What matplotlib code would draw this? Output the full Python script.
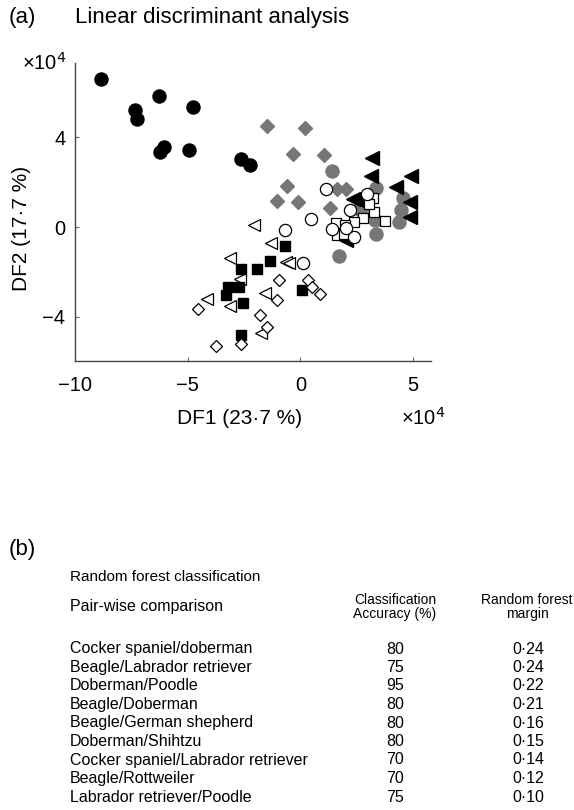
import matplotlib
matplotlib.use("Agg")
import matplotlib.pyplot as plt

plt.rcParams['font.family'] = ['Liberation Sans', 'DejaVu Sans']

W, H = 574, 810
GRAY = '#767676'

# ---- LDA scatter data (DF1, DF2 in units of 1e4) ----
black_circle_x = [-8.86, -6.28, -7.33, -7.23, -4.77, -6.03, -6.24, -4.92, -2.64, -2.23]
black_circle_y = [6.58, 5.82, 5.23, 4.83, 5.35, 3.57, 3.35, 3.45, 3.01, 2.76]

gray_diamond_x = [-1.50, 0.23, -0.31, 1.04, -0.58, -1.02, -0.11, 1.31, 1.61, 2.01]
gray_diamond_y = [4.49, 4.40, 3.27, 3.22, 1.81, 1.16, 1.11, 0.84, 1.68, 1.68]

black_tri_x = [3.19, 3.12, 4.91, 4.25, 2.35, 2.60, 4.85, 4.85, 2.04]
black_tri_y = [3.09, 2.29, 2.27, 1.80, 1.27, 1.16, 1.11, 0.44, -0.58]

gray_circle_x = [1.42, 3.36, 4.56, 2.61, 4.47, 3.30, 4.38, 3.36, 1.70, 3.00]
gray_circle_y = [2.51, 1.76, 1.29, 0.82, 0.76, 0.31, 0.22, -0.29, -1.29, 0.62]

open_circle_x = [1.15, 2.94, 2.21, 0.46, 1.39, 2.37, -0.69, 0.13, 2.04]
open_circle_y = [1.69, 1.49, 0.76, 0.36, -0.09, -0.44, -0.13, -1.59, -0.04]

open_square_x = [3.21, 3.27, 2.77, 2.37, 3.74, 1.57, 1.97, 1.64, 1.95, 3.05]
open_square_y = [1.31, 0.67, 0.40, 0.24, 0.29, 0.16, 0.09, -0.36, -0.29, 1.04]

open_tri_x = [-2.04, -1.31, -3.10, -0.62, -2.68, -4.16, -3.14, -1.55, -1.73, -0.49]
open_tri_y = [0.07, -0.72, -1.38, -1.54, -2.31, -3.18, -3.53, -2.93, -4.71, -1.60]

black_square_x = [-0.68, -1.35, -1.93, -2.64, -3.19, -2.74, -3.32, -2.54, -2.64, 0.07]
black_square_y = [-0.84, -1.53, -1.88, -1.88, -2.65, -2.67, -3.04, -3.39, -4.81, -2.78]

open_diamond_x = [-0.94, -1.02, -4.56, -1.79, -1.48, -3.76, -2.65, 0.35, 0.53, 0.88]
open_diamond_y = [-2.36, -3.24, -3.66, -3.93, -4.44, -5.29, -5.22, -2.36, -2.67, -2.99]

x_ticks = [-10, -5, 0, 5]
x_tick_labels = ['\u221210', '\u22125', '0', '5']
y_ticks = [-4, 0, 4]
y_tick_labels = ['\u22124', '0', '4']

# ---- Random forest table ----
pairs = ['Cocker spaniel/doberman', 'Beagle/Labrador retriever', 'Doberman/Poodle',
         'Beagle/Doberman', 'Beagle/German shepherd', 'Doberman/Shihtzu',
         'Cocker spaniel/Labrador retriever', 'Beagle/Rottweiler', 'Labrador retriever/Poodle']
accuracy = [80, 75, 95, 80, 80, 80, 70, 70, 75]
margin = ['0\u00b724', '0\u00b724', '0\u00b722', '0\u00b721', '0\u00b716', '0\u00b715',
          '0\u00b714', '0\u00b712', '0\u00b710']

fig = plt.figure(figsize=(W / 100, H / 100), dpi=100)

def fx(px):
    return px / W

def fy(py):
    return 1 - py / H

ax_l, ax_r, ax_t, ax_b = 75, 431, 63, 361
ax = fig.add_axes([fx(ax_l), fy(ax_b), (ax_r - ax_l) / W, (ax_b - ax_t) / H])

ax.plot(black_circle_x, black_circle_y, 'o', ms=9.4, color='black', mec='black', ls='none')
ax.plot(gray_diamond_x, gray_diamond_y, 'D', ms=7, color=GRAY, mec=GRAY, ls='none')
ax.plot(gray_circle_x, gray_circle_y, 'o', ms=9.4, color=GRAY, mec=GRAY, ls='none')
ax.plot(black_tri_x, black_tri_y, '<', ms=10.5, color='black', mec='black', ls='none')
ax.plot(open_square_x, open_square_y, 's', ms=7.3, mfc='white', mec='black', mew=0.9, ls='none')
ax.plot(open_circle_x, open_circle_y, 'o', ms=8.8, mfc='white', mec='black', mew=0.9, ls='none')
ax.plot(open_tri_x, open_tri_y, '<', ms=8.6, mfc='white', mec='black', mew=0.9, ls='none')
ax.plot(black_square_x, black_square_y, 's', ms=7.3, color='black', mec='black', ls='none')
ax.plot(open_diamond_x, open_diamond_y, 'D', ms=6.2, mfc='white', mec='black', mew=0.9, ls='none')

ax.set_xlim(-10, 5.8)
ax.set_ylim(-5.96, 7.3)
ax.set_xticks(x_ticks)
ax.set_xticklabels(x_tick_labels)
ax.set_yticks(y_ticks)
ax.set_yticklabels(y_tick_labels)
for s in ['top', 'right']:
    ax.spines[s].set_visible(False)
for s in ['left', 'bottom']:
    ax.spines[s].set_color('#444444')
    ax.spines[s].set_linewidth(1.0)
ax.tick_params(axis='both', direction='in', length=3, width=0.8, color='#666666', labelsize=14.5)
ax.tick_params(axis='x', pad=11)
ax.tick_params(axis='y', pad=7)

fig.text(fx(9), fy(18), '(a)', fontsize=16, va='center', ha='left')
fig.text(fx(75), fy(18), 'Linear discriminant analysis', fontsize=16, va='center', ha='left')
fig.text(fx(22), fy(63), '\u00d710$^{4}$', fontsize=14.5, va='center', ha='left')
fig.text(fx(22), fy(228), 'DF2 (17\u00b77 %)', fontsize=15, va='center', ha='center', rotation=90)
fig.text(fx(240), fy(418), 'DF1 (23\u00b77 %)', fontsize=15, va='center', ha='center')
fig.text(fx(401), fy(418), '\u00d710$^{4}$', fontsize=14.5, va='center', ha='left')

# ---- panel (b) ----
fig.text(fx(9), fy(549), '(b)', fontsize=16, va='center', ha='left')
fig.text(fx(70), fy(577), 'Random forest classification', fontsize=11, va='center', ha='left')
fig.text(fx(70), fy(607), 'Pair-wise comparison', fontsize=11.5, va='center', ha='left')
fig.text(fx(395), fy(607), 'Classification\nAccuracy (%)', fontsize=10, va='center', ha='center',
         linespacing=1.05)
fig.text(fx(527), fy(607), 'Random forest\nmargin', fontsize=10, va='center', ha='center',
         linespacing=1.05)

row0, pitch = 649, 18.5
for i, (p, a, m) in enumerate(zip(pairs, accuracy, margin)):
    y = row0 + i * pitch
    fig.text(fx(70), fy(y), p, fontsize=11.5, va='center', ha='left')
    fig.text(fx(395), fy(y), str(a), fontsize=11.5, va='center', ha='center')
    fig.text(fx(528), fy(y), m, fontsize=11.5, va='center', ha='center')

fig.savefig('out.png', dpi=100)
